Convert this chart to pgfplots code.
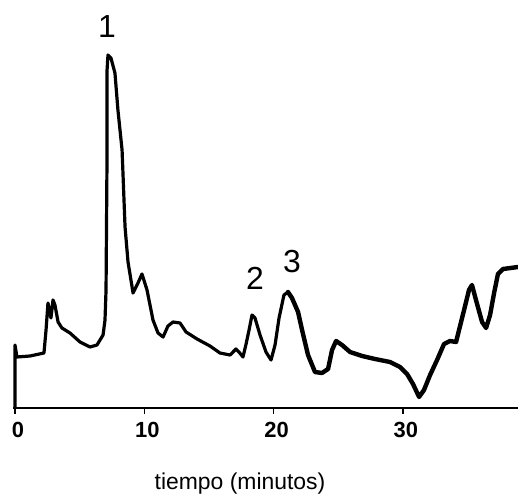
\documentclass[border=0pt]{standalone}
\usepackage{fontspec}
\setmainfont{Liberation Sans}
\usepackage{pgfplots}
\pgfplotsset{compat=1.18}
\begin{document}
\begin{tikzpicture}
\useasboundingbox (-13bp,-96bp) rectangle (505bp,408bp);
\begin{axis}[
  at={(0,0)}, anchor=south west,
  scale only axis, width=505bp, height=408bp,
  xmin=-0.155, xmax=38.9, ymin=0, ymax=408,
  axis x line=bottom, axis y line=none,
  x axis line style={-, line width=1.6bp},
  clip=false,
  xtick={0,10,20,30},
  tick align=outside, major tick length=6bp,
  tick style={black, line width=1.4bp},
  /pgf/number format/assume math mode=true,
  xticklabel style={font=\fontsize{22}{22}\selectfont\bfseries, inner sep=0pt, anchor=north, yshift=-8bp, xshift=3bp},
  xlabel={tiempo (minutos)},
  xlabel style={at={(rel axis cs:0.4495,0)}, anchor=base, yshift=-81bp, font=\fontsize{23}{23}\selectfont, inner sep=0pt},
]
\addplot[black, line width=3.2bp, line join=round, line cap=round] coordinates {
(0,0) (0,63) (0.15,51) (1.16,52) (2.24,55) (2.40,78) (2.55,105) (2.78,90)
(2.94,108) (3.09,103) (3.33,86) (3.63,80) (4.25,75) (5.03,66) (5.80,61)
(6.34,63) (6.81,73) (6.96,88) (7.04,118) (7.12,258) (7.12,338) (7.19,353)
(7.42,350) (7.73,335) (7.96,298) (8.28,258) (8.51,181) (8.74,146) (9.13,115)
(9.51,125) (9.82,134) (10.21,118) (10.67,88) (11.06,75) (11.45,71) (11.83,82)
(12.22,86) (12.76,85) (13.23,76) (14.08,69) (15.08,62) (15.85,55) (16.63,53)
(17.09,59) (17.32,56) (17.63,51) (17.87,64) (18.10,78) (18.33,93) (18.56,90)
(18.95,73) (19.41,56) (19.80,48) (20.11,63) (20.42,90) (20.80,113) (21.11,116)
};
\addplot[black, line width=4.4bp, line join=round, line cap=round] coordinates {
(21.11,116)
(21.42,110) (21.89,96) (22.20,78) (22.66,53) (23.20,36) (23.74,35) (24.21,39)
(24.52,58) (24.83,67) (25.29,63) (25.91,56) (26.84,52) (27.84,49) (29.00,46)
(29.77,41) (30.32,34) (30.78,24) (31.25,11) (31.63,18) (32.10,33) (32.64,48)
(33.18,64) (33.64,67) (34.11,66) (34.34,78) (34.73,98) (35.11,118) (35.34,123)
(35.65,108) (36.12,86) (36.43,80) (36.74,93) (37.05,115) (37.35,134) (37.74,139)
(38.90,141)
};
\node[anchor=base, font=\fontsize{32}{32}\selectfont, inner sep=0pt] at (axis cs:7.12,370) {1};
\node[anchor=base, font=\fontsize{32}{32}\selectfont, inner sep=0pt] at (axis cs:18.56,118) {2};
\node[anchor=base, font=\fontsize{32}{32}\selectfont, inner sep=0pt] at (axis cs:21.42,135) {3};
\end{axis}
\end{tikzpicture}
\end{document}
